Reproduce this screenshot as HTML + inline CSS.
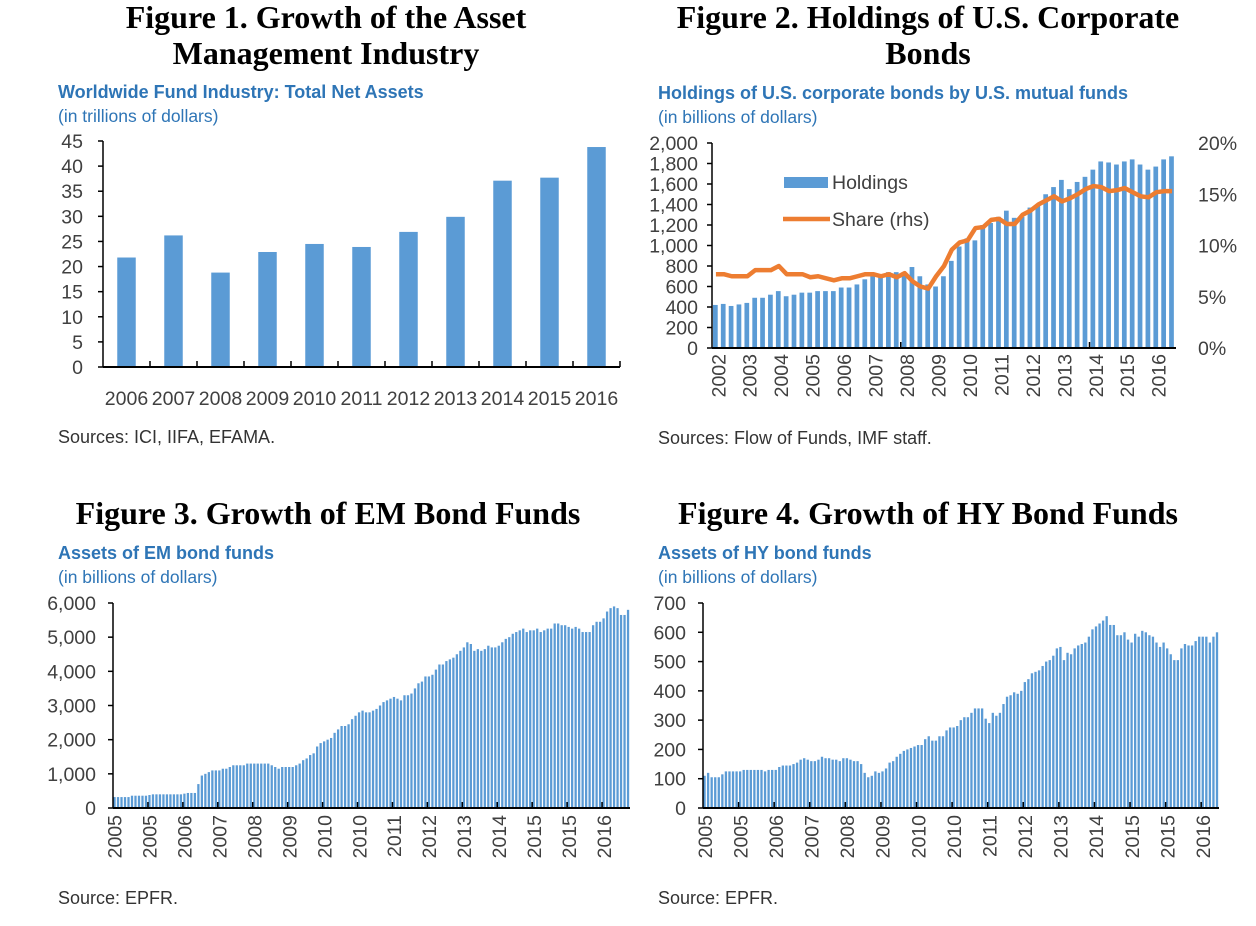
<!DOCTYPE html>
<html><head><meta charset="utf-8"><style>
body{margin:0;background:#fff;}
svg{display:block;font-family:"Liberation Sans",sans-serif;}
.t{font-family:"Liberation Serif",serif;font-weight:bold;font-size:32px;fill:#000;}
.st{font-size:18px;font-weight:bold;fill:#2E75B6;}
.sp{font-size:17.5px;fill:#2E75B6;}
.tk{font-size:19.5px;fill:#404040;}
.src{font-size:18px;fill:#333;}
</style></head><body>
<svg id="s" width="1256" height="926">
<text class="t" x="326" y="28" text-anchor="middle">Figure 1. Growth of the Asset</text>
<text class="t" x="326" y="64" text-anchor="middle">Management Industry</text>
<text class="st" x="58" y="98">Worldwide Fund Industry: Total Net Assets</text>
<text class="sp" x="58" y="122">(in trillions of dollars)</text>
<text class="src" x="58" y="443">Sources: ICI, IIFA, EFAMA.</text>
<text class="t" x="928" y="28" text-anchor="middle">Figure 2. Holdings of U.S. Corporate</text>
<text class="t" x="928" y="64" text-anchor="middle">Bonds</text>
<text class="st" x="658" y="99">Holdings of U.S. corporate bonds by U.S. mutual funds</text>
<text class="sp" x="658" y="123">(in billions of dollars)</text>
<text class="src" x="658" y="444">Sources: Flow of Funds, IMF staff.</text>
<text class="t" x="328" y="524" text-anchor="middle">Figure 3. Growth of EM Bond Funds</text>
<text class="st" x="58" y="559">Assets of EM bond funds</text>
<text class="sp" x="58" y="583">(in billions of dollars)</text>
<text class="src" x="58" y="904">Source: EPFR.</text>
<text class="t" x="928" y="524" text-anchor="middle">Figure 4. Growth of HY Bond Funds</text>
<text class="st" x="658" y="559">Assets of HY bond funds</text>
<text class="sp" x="658" y="583">(in billions of dollars)</text>
<text class="src" x="658" y="904">Source: EPFR.</text>
<g>
<rect x="784" y="177" width="44" height="11" fill="#5B9BD5"/>
<text class="tk" x="832" y="189">Holdings</text>
<line x1="783" y1="219" x2="830" y2="219" stroke="#ED7D31" stroke-width="4.5"/>
<text class="tk" x="832" y="226">Share (rhs)</text>
</g>
</svg>
<script>
const fig1Years=['2006','2007','2008','2009','2010','2011','2012','2013','2014','2015','2016'];
const fig1Values=[21.8,26.2,18.8,22.9,24.5,23.9,26.9,29.9,37.1,37.7,43.8];
const fig1Ticks=[0,5,10,15,20,25,30,35,40,45];
const fig2Holdings=[420,430,410,425,440,490,490,520,555,505,520,540,540,555,555,555,590,590,620,670,700,720,740,740,740,790,700,620,600,700,850,990,1070,1050,1200,1220,1280,1340,1270,1280,1370,1400,1500,1570,1640,1550,1620,1670,1740,1820,1810,1790,1820,1840,1790,1740,1770,1840,1870];
const fig2Share=[7.2,7.2,7.0,7.0,7.0,7.6,7.6,7.6,8.0,7.2,7.2,7.2,6.9,7.0,6.8,6.6,6.8,6.8,7.0,7.2,7.2,7.0,7.2,6.9,7.3,6.5,6.0,5.8,7.0,8.0,9.6,10.3,10.5,11.7,11.8,12.5,12.6,12.1,12.1,13.0,13.4,14.0,14.4,14.8,14.3,14.6,15.0,15.5,15.8,15.7,15.3,15.4,15.6,15.2,14.8,14.7,15.2,15.3,15.3];
const fig2Years=['2002','2003','2004','2005','2006','2007','2008','2009','2010','2011','2012','2013','2014','2015','2016'];
const fig2LeftTicks=[0,200,400,600,800,1000,1200,1400,1600,1800,2000];
const fig2RightTicks=[0,5,10,15,20];
const fig3Values=[320,320,320,320,320,360,360,360,360,360,380,400,400,400,400,400,400,400,400,400,420,440,440,440,700,950,1000,1050,1100,1100,1100,1150,1150,1200,1250,1250,1250,1250,1300,1300,1300,1300,1300,1300,1300,1250,1200,1150,1200,1200,1200,1200,1250,1300,1400,1450,1550,1600,1800,1900,1950,2000,2050,2200,2300,2400,2400,2450,2600,2700,2800,2850,2800,2800,2850,2900,3000,3100,3150,3200,3250,3200,3150,3300,3300,3350,3500,3650,3700,3850,3850,3900,4050,4200,4200,4300,4350,4400,4500,4600,4700,4850,4800,4600,4650,4600,4650,4750,4700,4700,4750,4850,4950,5000,5100,5150,5200,5250,5150,5200,5200,5250,5150,5200,5250,5250,5400,5400,5350,5350,5300,5250,5300,5250,5150,5150,5150,5350,5450,5450,5550,5750,5850,5900,5850,5650,5650,5800];
const fig3Labels=['2005','2005','2006','2007','2008','2009','2010','2010','2011','2012','2013','2014','2015','2015','2016'];
const fig3Ticks=[0,1000,2000,3000,4000,5000,6000];
const fig4Values=[110,120,105,105,105,115,125,125,125,125,125,130,130,130,130,130,130,125,130,130,130,140,145,145,145,150,155,165,170,165,160,160,165,175,170,170,165,165,160,170,170,165,160,160,150,120,105,110,125,120,125,135,155,160,175,185,195,200,205,210,215,215,235,245,230,230,245,245,265,275,275,280,300,310,310,325,340,340,340,305,290,325,315,325,355,380,385,395,390,400,430,440,460,465,470,485,500,505,520,545,550,505,530,525,545,555,560,565,585,610,620,630,640,655,625,625,590,590,600,575,565,595,585,605,600,590,585,565,550,565,545,525,505,505,545,560,555,555,570,585,585,585,565,585,600];
const fig4Labels=['2005','2005','2006','2007','2008','2009','2010','2010','2011','2012','2013','2014','2015','2015','2016'];
const fig4Ticks=[0,100,200,300,400,500,600,700];

const NS='http://www.w3.org/2000/svg', svg=document.getElementById('s');
function mk(tag,attrs,txt){const e=document.createElementNS(NS,tag);for(const k in attrs)e.setAttribute(k,attrs[k]);if(txt!==undefined)e.textContent=txt;svg.appendChild(e);return e;}
const BLUE='#5B9BD5', AX='#000';

function yTicks(x0,y0,y1,max,ticks,fmt,pfx,gap){
  ticks.forEach(t=>{const y=y0-(t/max)*(y0-y1);
    const l=mk('line',{x1:x0-5,y1:y,x2:x0,y2:y,stroke:AX,'stroke-width':1.5});
    
    
    const tx=mk('text',{x:x0-gap,y:y+7,'text-anchor':'end',class:'tk'},fmt(t));
    
    });
}
function axes(x0,x1,y0,y1,pfx){
  const a=mk('line',{x1:x0,y1:y1,x2:x0,y2:y0,stroke:AX,'stroke-width':1.5});
  
  
  const b=mk('line',{x1:x0,y1:y0,x2:x1,y2:y0,stroke:AX,'stroke-width':2});
  
  
}
const comma=v=>v.toLocaleString('en-US');

// Figure 1
(function(){const x0=103,x1=620,y0=367,y1=141,max=45,n=fig1Values.length,slot=(x1-x0)/n;
  fig1Values.forEach((v,i)=>{const h=v/max*(y0-y1);
    const r=mk('rect',{x:x0+slot*i+(slot-18.5)/2,y:y0-h,width:18.5,height:h,fill:BLUE});
    
    
    const t=mk('text',{x:x0+slot*(i+0.5),y:405,'text-anchor':'middle',class:'tk'},fig1Years[i]);
    
    
    const tk=mk('line',{x1:x0+slot*(i+1),y1:y0,x2:x0+slot*(i+1),y2:y0-6,stroke:AX,'stroke-width':1.5});
    
    });
  axes(x0,x1,y0,y1,'fig1');yTicks(x0,y0,y1,max,fig1Ticks,v=>''+v,'fig1',20);})();

// Figure 2
(function(){const x0=712,x1=1176,y0=348,y1=143,max=2000,pmax=20,n=fig2Holdings.length,slot=(x1-x0)/n;
  fig2Holdings.forEach((v,i)=>{const h=v/max*(y0-y1);
    const r=mk('rect',{x:x0+slot*i+1,y:y0-h,width:slot*0.6,height:h,fill:BLUE});
    
    });
  const pts=fig2Share.map((v,i)=>(x0+slot*(i+0.5))+','+(y0-v/pmax*(y0-y1))).join(' ');
  const pl=mk('polyline',{points:pts,fill:'none',stroke:'#ED7D31','stroke-width':4.5,'stroke-linejoin':'round'});
  
  
  fig2Years.forEach((y,i)=>{const cx=x0+slot*(4*i+0.8);
    const t=mk('text',{x:0,y:0,'text-anchor':'end',class:'tk',transform:`translate(${cx+7},354) rotate(-90)`},y);
    
    });
  axes(x0,x1,y0,y1,'fig2');yTicks(x0,y0,y1,max,fig2LeftTicks,comma,'fig2',14);
  [24,48].forEach(k=>{const l=mk('line',{x1:x0+slot*k,y1:y0,x2:x0+slot*k,y2:y0-6,stroke:AX,'stroke-width':1.5});
    
    });
  fig2RightTicks.forEach(t=>{const y=y0-t/pmax*(y0-y1);
    const tx=mk('text',{x:1198,y:y+7,class:'tk'},t+'%');
    
    });})();

function monthly(vals,labels,ticks,max,x0,x1,pfx){const y0=808,y1=603,n=vals.length,slot=(x1-x0)/n;
  vals.forEach((v,i)=>{const h=v/max*(y0-y1);
    const r=mk('rect',{x:x0+slot*i+0.4,y:y0-h,width:slot*0.65,height:h,fill:BLUE});
    
    });
  labels.forEach((y,i)=>{const cx=x0+slot*(10*i+0.5);
    const t=mk('text',{x:0,y:0,'text-anchor':'end',class:'tk',transform:`translate(${cx+7},815) rotate(-90)`},y);
    
    
    if(i>0){const l=mk('line',{x1:x0+slot*10*i,y1:y0,x2:x0+slot*10*i,y2:y0-6,stroke:AX,'stroke-width':1.5});
    
    }});
  axes(x0,x1,y0,y1,pfx);yTicks(x0,y0,y1,max,ticks,comma,pfx,17);}
monthly(fig3Values,fig3Labels,fig3Ticks,6000,113,630,'fig3');
monthly(fig4Values,fig4Labels,fig4Ticks,700,703,1219,'fig4');
</script>
</body></html>
